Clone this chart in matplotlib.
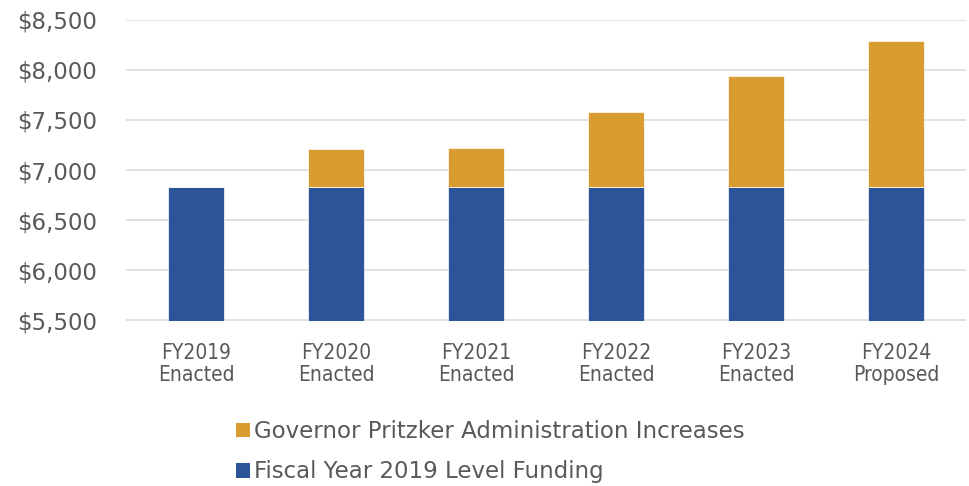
import matplotlib
matplotlib.use("Agg")
import matplotlib.pyplot as plt
from matplotlib import font_manager
from matplotlib.font_manager import FontProperties
from matplotlib.patches import Patch
import numpy as np

categories = ["FY2019\nEnacted", "FY2020\nEnacted", "FY2021\nEnacted",
              "FY2022\nEnacted", "FY2023\nEnacted", "FY2024\nProposed"]
base_funding = [6832, 6832, 6832, 6832, 6832, 6832]
increases = [0, 380, 386, 750, 1100, 1452]
yticks = [5500, 6000, 6500, 7000, 7500, 8000, 8500]
legend_labels = ["Governor Pritzker Administration Increases",
                 "Fiscal Year 2019 Level Funding"]

BLUE = "#2C5599"
ORANGE = "#D99C30"
TXT = "#595959"
GRID = "#D9D9D9"

# look for a condensed face for the category labels
cond_path = None
cands = []
for f in font_manager.fontManager.ttflist:
    fn = f.fname.lower()
    if ("narrow" in fn or "condensed" in fn) and "bold" not in fn and "italic" not in fn \
            and "oblique" not in fn and "light" not in fn and "semi" not in fn \
            and "medium" not in fn and "black" not in fn and "thin" not in fn:
        cands.append(f.fname)
for pref in ["LiberationSansNarrow-Regular", "DejaVuSansCondensed.ttf", "Condensed-Regular",
             "Narrow"]:
    hits = [c for c in cands if pref.lower() in c.lower()]
    if hits:
        cond_path = hits[0]
        break
if cond_path is None and cands:
    cond_path = cands[0]

if cond_path:
    xprop = FontProperties(fname=cond_path, size=15)
else:
    xprop = FontProperties(family="DejaVu Sans", size=14)

fig = plt.figure(figsize=(9.69, 4.86), dpi=100)
ax = fig.add_axes([126.3 / 969, 1 - 320.5 / 486, 840 / 969, 301 / 486])

x = np.arange(len(categories))
ax.bar(x, base_funding, width=0.4, color=BLUE, edgecolor="white", linewidth=0.5, zorder=3)
ax.bar(x, increases, width=0.4, bottom=base_funding, color=ORANGE,
       edgecolor="white", linewidth=0.5, zorder=3)

ax.set_xlim(-0.5, len(categories) - 0.5)
ax.set_ylim(yticks[0], yticks[-1])
ax.set_yticks(yticks)
ax.set_yticklabels([f"${v:,}" for v in yticks], fontsize=16.5, color=TXT,
                   family="DejaVu Sans")
ax.set_xticks(x)
ax.set_xticklabels(categories, color=TXT, fontproperties=xprop, linespacing=1.15)
ax.tick_params(axis="y", length=0, pad=21)
ax.tick_params(axis="x", length=0, pad=16)
ax.grid(axis="y", color=GRID, linewidth=1.1, zorder=0)
for s in ax.spines.values():
    s.set_visible(False)
ax.set_facecolor("white")

handles = [Patch(facecolor=ORANGE, edgecolor="none"), Patch(facecolor=BLUE, edgecolor="none")]
fig.legend(handles, legend_labels, loc="upper left",
           bbox_to_anchor=(236 / 969, 1 - 420 / 486), frameon=False,
           prop={"family": "DejaVu Sans", "size": 16.5}, labelcolor=TXT,
           handlelength=0.62, handleheight=0.62, handletextpad=0.15,
           labelspacing=0.76, borderpad=0, borderaxespad=0)

fig.savefig("out.png", dpi=100, facecolor="white")
